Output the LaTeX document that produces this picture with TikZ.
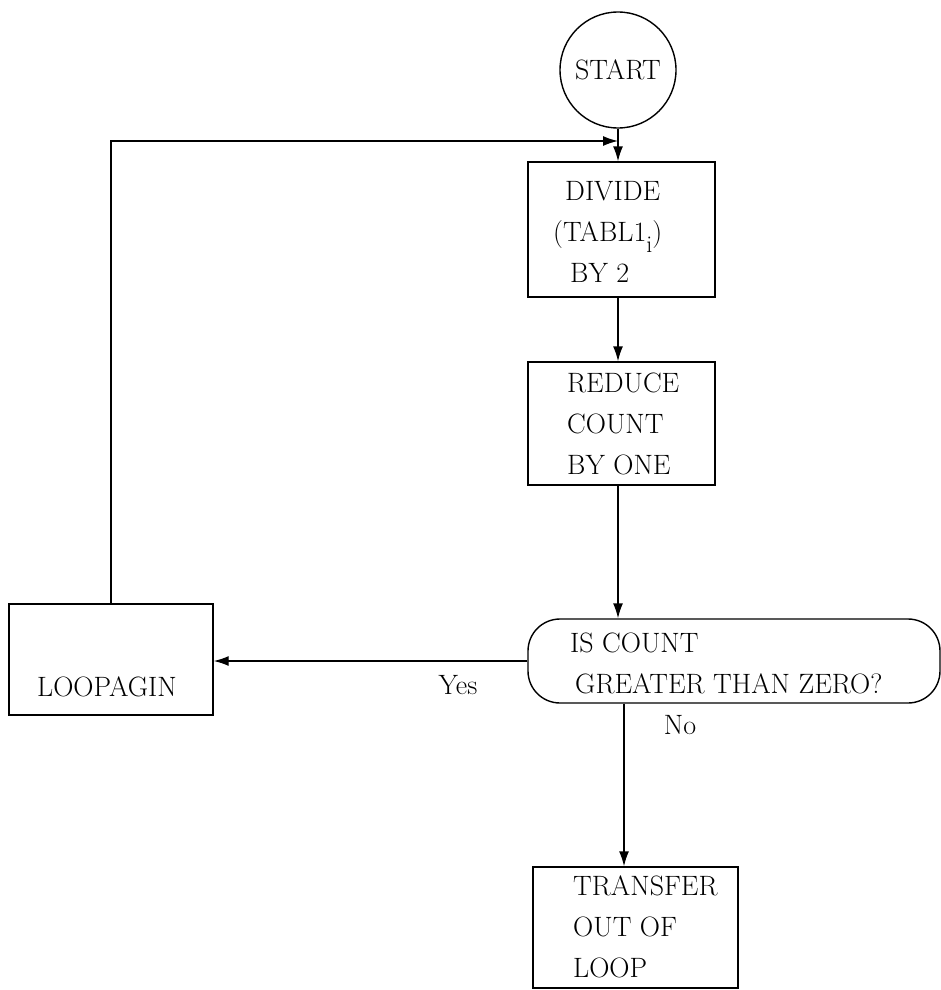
\documentclass[tikz,border=0pt]{standalone}
\usepackage{xcolor}
\usepackage{amsmath}
\usepackage{tikz}
\usetikzlibrary{arrows.meta}

\tikzset{
  flowbox/.style={draw, line width=1.4pt, inner sep=0pt},
  txt/.style={anchor=west, inner sep=0pt, align=left, font=\fontsize{28}{41}\selectfont},
  lbl/.style={inner sep=0pt, font=\fontsize{28}{41}\selectfont},
  link/.style={line width=1.4pt, -{Latex[length=15pt,width=10pt]}}
}

\begin{document}
\begin{tikzpicture}[x=1pt,y=1pt,yscale=-1]
\useasboundingbox (0,0) rectangle (941,990);

%Shape: Circle [id:start]
\node[flowbox, circle, minimum size=116pt, font=\fontsize{28}{41}\selectfont] (start) at (618,70) {START};
%Shape: Rectangle [id:divide]
\node[flowbox, minimum width=187pt, minimum height=135pt] (divide) at (621.5,229.5) {};
%Shape: Rectangle [id:reduce]
\node[flowbox, minimum width=187pt, minimum height=123pt] (reduce) at (621.5,423.5) {};
%Shape: Rounded Rectangle [id:test]
\node[flowbox, rounded corners=32pt, minimum width=412pt, minimum height=84pt] (test) at (734,661) {};
%Shape: Rectangle [id:loopagin]
\node[flowbox, minimum width=204pt, minimum height=111pt] (loopagin) at (111,659.5) {};
%Shape: Rectangle [id:transfer]
\node[flowbox, minimum width=205pt, minimum height=121pt] (transfer) at (635.5,927.5) {};

\coordinate (merge) at (618,141);
\coordinate (nox) at (624,0);

%Straight Lines
\draw[link] (start) -- (start |- divide.north);
\draw[link] (start |- divide.south) -- (start |- reduce.north);
\draw[link] (start |- reduce.south) -- (start |- test.north);
\draw[link] (test.west) -- (test.west -| loopagin.east);
\draw[link] (loopagin.north) |- (merge);
\draw[link] (nox |- test.south) -- (nox |- transfer.north);

% Text Node
\node[txt] (divide-t) at (553,232) {\hspace*{12pt}DIVIDE\\(TABL1\raisebox{-11pt}{\fontsize{24}{24}\selectfont i})\\\hspace*{17pt}BY 2};
% Text Node
\node[txt] (reduce-t) at (567,424) {REDUCE\\COUNT\\BY ONE};
% Text Node
\node[txt] (test-t) at (570,663) {IS COUNT\\\hspace*{5pt}GREATER THAN ZERO?};
% Text Node
\node[txt] (loopagin-t) at (37,687) {LOOPAGIN};
% Text Node
\node[txt] (transfer-t) at (573,927) {TRANSFER\\OUT OF\\LOOP};
% Text Node
\node[lbl] (yes) at (458,685) {Yes};
% Text Node
\node[lbl] (no) at (680,725) {No};

\end{tikzpicture}
\end{document}
